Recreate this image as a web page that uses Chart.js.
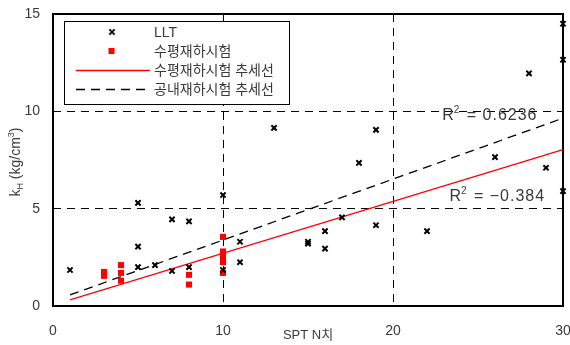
<!DOCTYPE html>
<html>
<head>
<meta charset="utf-8">
<script src="https://cdn.jsdelivr.net/npm/chart.js@4/dist/chart.umd.min.js"></script>
<style>
  html, body { margin: 0; padding: 0; background: #fff; }
  #wrap { width: 570px; height: 345px; }
</style>
</head>
<body>
<div id="wrap"><canvas id="c" width="570" height="345"></canvas></div>
<script>
// LLT results: SPT N value and horizontal subgrade reaction k_H (kg/cm3)
const lltN = [1, 5, 5, 5, 6, 7, 7, 8, 8, 10, 10, 11, 11, 13, 15, 15, 16, 16, 17, 18, 19, 19, 22, 26, 28, 29, 30, 30, 30];
const lltK = [1.85, 5.3, 3.05, 2.0, 2.1, 4.45, 1.8, 4.35, 2.0, 5.7, 1.85, 3.3, 2.25, 9.15, 3.2, 3.3, 3.85, 2.95, 4.55, 7.35, 9.05, 4.15, 3.85, 7.65, 11.95, 7.1, 5.9, 14.5, 12.65];

// Horizontal load test results
const horizN = [3, 3, 4, 4, 4, 8, 8, 10, 10, 10, 10, 10, 10];
const horizK = [1.75, 1.55, 2.1, 1.7, 1.3, 1.6, 1.1, 3.55, 2.8, 2.65, 2.5, 2.25, 1.7];

// Trend lines (end points over the N range)
const trendN = [1, 30];
const horizTrendK = [0.32, 8.03];
const boreTrendK = [0.57, 9.65];

// Coefficients of determination
const r2Bore = 0.6236;
const r2Horiz = -0.384;

const seriesLabels = ['LLT', '수평재하시험', '수평재하시험 추세선', '공내재하시험 추세선'];
const xTicks = [0, 10, 20, 30];
const yTicks = [0, 5, 10, 15];
const xTitle = 'SPT N치';

const pts = (xs, ys) => xs.map((x, i) => ({ x, y: ys[i] }));

const NUM_FONT = '"Liberation Sans", "Noto Sans CJK KR", sans-serif';
const KR_FONT = '"Liberation Sans", "Noto Sans CJK KR", sans-serif';
const TEXT_GRAY = '#3a3a3a';

function drawCross(ctx, x, y, r) {
  ctx.save();
  ctx.strokeStyle = '#000';
  ctx.lineWidth = 2;
  ctx.beginPath();
  ctx.moveTo(x - r, y - r); ctx.lineTo(x + r, y + r);
  ctx.moveTo(x - r, y + r); ctx.lineTo(x + r, y - r);
  ctx.stroke();
  ctx.restore();
}

// Plot frame drawn over the grid, under the marks
const framePlugin = {
  id: 'frame',
  beforeDatasetsDraw(chart) {
    const { ctx, chartArea: a } = chart;
    ctx.save();
    ctx.strokeStyle = '#000';
    ctx.lineWidth = 2;
    ctx.setLineDash([]);
    ctx.strokeRect(a.left, a.top, a.right - a.left, a.bottom - a.top);
    ctx.restore();
  }
};

// Legend box inside the plot area
const legendPlugin = {
  id: 'boxLegend',
  afterDatasetsDraw(chart) {
    const { ctx } = chart;
    const bx = 64.5, by = 21.5, bw = 225, bh = 83;
    ctx.save();
    ctx.fillStyle = '#fff';
    ctx.fillRect(bx, by, bw, bh);
    ctx.strokeStyle = '#000';
    ctx.lineWidth = 1;
    ctx.strokeRect(bx, by, bw, bh);
    const rows = [32, 51, 70, 89];
    const textX = 154;
    chart.data.datasets.forEach((ds, i) => {
      const y = rows[i];
      if (ds.kind === 'cross') {
        drawCross(ctx, 112, y, 2.6);
      } else if (ds.kind === 'square') {
        ctx.fillStyle = ds.backgroundColor;
        ctx.fillRect(108.5, y - 3, 6, 6);
      } else {
        ctx.save();
        ctx.strokeStyle = ds.borderColor;
        ctx.lineWidth = ds.borderWidth;
        ctx.setLineDash(ds.borderDash || []);
        ctx.beginPath();
        ctx.moveTo(76, y + 0.5);
        ctx.lineTo(150, y + 0.5);
        ctx.stroke();
        ctx.restore();
      }
      ctx.fillStyle = TEXT_GRAY;
      ctx.font = '14px ' + KR_FONT;
      ctx.textBaseline = 'middle';
      ctx.textAlign = 'left';
      ctx.fillText(ds.label, textX, y + 1);
    });
    ctx.restore();
  }
};

// R-squared annotations and y-axis title with sub/superscripts
function drawR2(ctx, value, xRight, yBase) {
  const rest = ' = ' + String(value).replace('-', '\u2212');
  ctx.save();
  ctx.fillStyle = TEXT_GRAY;
  ctx.textBaseline = 'alphabetic';
  ctx.textAlign = 'left';
  ctx.letterSpacing = '1px';
  ctx.font = '16px ' + NUM_FONT;
  const wR = ctx.measureText('R').width;
  const wRest = ctx.measureText(rest).width;
  ctx.font = '10px ' + NUM_FONT;
  const w2 = ctx.measureText('2').width;
  let x = xRight - (wR + w2 + wRest);
  ctx.font = '16px ' + NUM_FONT;
  ctx.fillText('R', x, yBase);
  x += wR;
  ctx.font = '10px ' + NUM_FONT;
  ctx.fillText('2', x - 1, yBase - 7);
  x += w2;
  ctx.font = '16px ' + NUM_FONT;
  ctx.fillText(rest, x, yBase);
  ctx.restore();
}

const annotPlugin = {
  id: 'annot',
  afterDraw(chart) {
    const { ctx, scales: { x, y } } = chart;
    drawR2(ctx, r2Bore, x.getPixelForValue(28.5), y.getPixelForValue(9.57));
    drawR2(ctx, r2Horiz, x.getPixelForValue(28.95), y.getPixelForValue(5.37));

    // y-axis title: k_H (kg/cm^3)
    const parts = [
      { t: 'k', size: 14, dy: 0 },
      { t: 'H', size: 9, dy: 3 },
      { t: ' (kg/cm', size: 14, dy: 0 },
      { t: '3', size: 9, dy: -6 },
      { t: ')', size: 14, dy: 0 }
    ];
    ctx.save();
    ctx.fillStyle = TEXT_GRAY;
    ctx.textBaseline = 'alphabetic';
    ctx.textAlign = 'left';
    let total = 0;
    parts.forEach(p => { ctx.font = p.size + 'px ' + NUM_FONT; p.w = ctx.measureText(p.t).width; total += p.w; });
    ctx.translate(20, 162);
    ctx.rotate(-Math.PI / 2);
    let cx = -total / 2;
    parts.forEach(p => {
      ctx.font = p.size + 'px ' + NUM_FONT;
      ctx.fillText(p.t, cx, p.dy);
      cx += p.w;
    });
    ctx.restore();
  }
};

new Chart(document.getElementById('c'), {
  type: 'scatter',
  data: {
    datasets: [
      {
        label: seriesLabels[0], kind: 'cross',
        data: pts(lltN, lltK),
        pointStyle: 'crossRot', pointRadius: 3.7, pointBorderWidth: 2,
        borderColor: '#000', backgroundColor: '#000', showLine: false
      },
      {
        label: seriesLabels[1], kind: 'square',
        data: pts(horizN, horizK),
        pointStyle: 'rect', pointRadius: 4.3, pointBorderWidth: 0,
        borderColor: '#ff0000', backgroundColor: '#ff0000', showLine: false
      },
      {
        label: seriesLabels[2], kind: 'line',
        data: pts(trendN, horizTrendK),
        showLine: true, pointRadius: 0, borderColor: '#ff0000', borderWidth: 1.3,
        backgroundColor: '#ff0000', fill: false
      },
      {
        label: seriesLabels[3], kind: 'line',
        data: pts(trendN, boreTrendK),
        showLine: true, pointRadius: 0, borderColor: '#000', borderWidth: 1.3,
        borderDash: [9, 6], backgroundColor: '#000', fill: false
      }
    ]
  },
  options: {
    responsive: false,
    animation: false,
    devicePixelRatio: 1,
    clip: false,
    layout: { padding: { left: 0, right: 7, top: 14, bottom: 0 } },
    plugins: { legend: { display: false }, tooltip: { enabled: false } },
    scales: {
      x: {
        type: 'linear', min: 0, max: 30,
        afterBuildTicks: s => { s.ticks = xTicks.map(v => ({ value: v })); },
        afterFit: s => { s.height = 39; s.paddingLeft = 0; s.paddingRight = 0; },
        ticks: { font: { size: 14, family: NUM_FONT }, color: TEXT_GRAY, padding: 17, maxRotation: 0 },
        grid: {
          drawTicks: false, lineWidth: 1,
          color: c => (c.tick && (c.tick.value === 10 || c.tick.value === 20)) ? '#000' : 'rgba(0,0,0,0)'
        },
        border: { display: false, dash: [8, 6] },
        title: { display: true, text: xTitle, font: { size: 13, family: KR_FONT }, color: TEXT_GRAY, padding: { top: 0, bottom: 2 } }
      },
      y: {
        type: 'linear', min: 0, max: 15,
        afterBuildTicks: s => { s.ticks = yTicks.map(v => ({ value: v })); },
        afterFit: s => { s.width = 53; s.paddingTop = 0; s.paddingBottom = 0; },
        ticks: { font: { size: 14, family: NUM_FONT }, color: TEXT_GRAY, padding: 13 },
        grid: {
          drawTicks: false, lineWidth: 1,
          color: c => (c.tick && (c.tick.value === 5 || c.tick.value === 10)) ? '#000' : 'rgba(0,0,0,0)'
        },
        border: { display: false, dash: [8, 6] }
      }
    }
  },
  plugins: [framePlugin, legendPlugin, annotPlugin]
});
</script>
</body>
</html>
